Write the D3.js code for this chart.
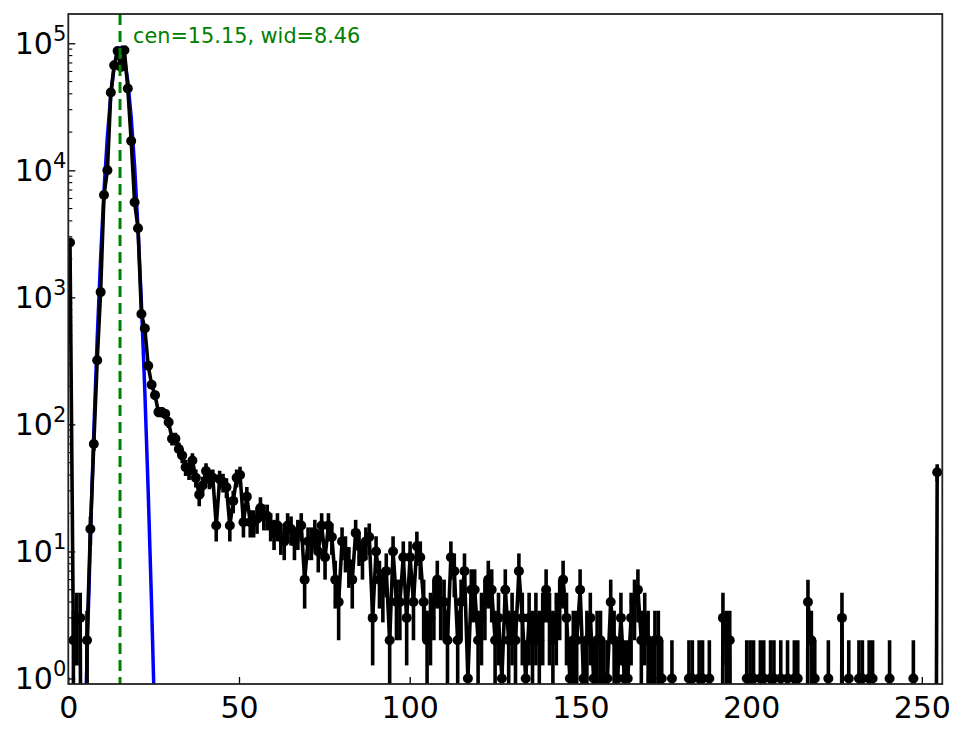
<!DOCTYPE html>
<html><head><meta charset="utf-8">
<script src="https://cdn.jsdelivr.net/npm/d3@7"></script>
<style>
body{margin:0;background:#fff;}
text{font-family:"DejaVu Sans",sans-serif;}
</style>
</head><body>
<svg id="chart" width="964" height="729"></svg>
<script>
// ---- data ----
const counts = [
  2700,2,3,3,0,2,15,70,320,1100,6400,10000,41000,67000,87000,65000,
  88000,44000,17000,5600,3500,740,570,290,205,170,125,125,121,104,77,77,
  64,57,46,43,52,38,28,33,43,37,38,16,37,35,32,16,
  25,38,40,17,27,17,17,18,22,19,19,16,14,16,13,12,
  16,15,12,14,16,6,12,12,14,10,16,9,16,13,6,4,
  12,10,8,6,14,11,9,12,13,3,10,6,5,7,2,10,
  4,4,9,3,9,4,11,9,4,2,3,4,6,4,4,2,
  9,7,2,4,7,1,5,5,2,3,4,6,5,2,3,1,
  5,2,3,2,7,3,1,3,2,3,2,3,5,3,2,3,
  4,6,3,1,2,2,5,1,2,3,1,2,2,1,1,4,
  2,1,3,1,1,3,4,5,2,3,2,1,2,2,1,0,
  0,1,0,0,0,0,1,1,0,1,1,0,1,0,0,0,
  3,2,2,0,0,0,0,1,1,1,0,1,1,0,1,1,
  0,1,0,1,0,1,1,0,0,4,2,1,0,0,0,1,
  0,0,0,3,0,1,0,0,1,1,0,1,1,0,0,0,
  0,1,0,0,0,0,0,0,1,0,0,0,0,0,0,42
];
const histRangeMax = 255;           // histogram range 0..255 in 256 bins
const binIndex = d3.range(counts.length);
const fitBins   = [4,5,6,7,8,9,10,11,12,13,14,15,16,17,18,19,20,21,22,23,24,25,26];
const fitValues = [0.134,1.47,12.7,87.4,474,2033,6900,18520,39310,66000,87660,92090,
                   76480,50260,26110,10730,3490,897,183,29.4,3.73,0.376,0.03];
const fitCenter = 15.15, fitWidth = 8.46;
const xTicks = [0,50,100,150,200,250];
const yTickExponents = [0,1,2,3,4,5];

// ---- layout ----
const W = 964, H = 729;
const L = 68.3, R = 942.3, T = 14, B = 684;
const svg = d3.select("#chart");
svg.append("rect").attr("width",W).attr("height",H).attr("fill","#fff");

const x = d3.scaleLinear().domain([0,256]).range([L,R]);
const y = d3.scaleLog().domain([0.905,1.70e5]).range([B,T]);
const binCenter = i => (i + 0.5) * histRangeMax / counts.length;
const floorVal = 1e-6;

svg.append("clipPath").attr("id","plotclip").append("rect")
  .attr("x",L).attr("y",T).attr("width",R-L).attr("height",B-T);
const g = svg.append("g").attr("clip-path","url(#plotclip)");

// fit curve
g.append("path")
  .datum(fitBins.map((b,k)=>[b,fitValues[k]]))
  .attr("fill","none").attr("stroke","#0000ff").attr("stroke-width",3.5)
  .attr("d", d3.line().x(d=>x(binCenter(d[0]))).y(d=>y(Math.max(d[1],floorVal))));

// data line
g.append("path")
  .datum(binIndex)
  .attr("fill","none").attr("stroke","#000").attr("stroke-width",3.6)
  .attr("stroke-linejoin","round")
  .attr("d", d3.line().x(i=>x(binCenter(i))).y(i=>y(Math.max(counts[i],floorVal))));

// error bars (Poisson)
const nz = binIndex.filter(i=>counts[i]>0);
g.selectAll("line.err").data(nz).join("line").attr("class","err")
  .attr("x1",i=>x(binCenter(i))).attr("x2",i=>x(binCenter(i)))
  .attr("y1",i=>y(Math.max(counts[i]-Math.sqrt(counts[i]),floorVal)))
  .attr("y2",i=>y(counts[i]+Math.sqrt(counts[i])))
  .attr("stroke","#000").attr("stroke-width",3.6);

// markers
g.selectAll("circle.pt").data(nz).join("circle").attr("class","pt")
  .attr("cx",i=>x(binCenter(i))).attr("cy",i=>y(counts[i])).attr("r",5)
  .attr("fill","#000");

// center line
g.append("line")
  .attr("x1",x(fitCenter)).attr("x2",x(fitCenter)).attr("y1",T).attr("y2",B)
  .attr("stroke","#008000").attr("stroke-width",3).attr("stroke-dasharray","11,6");

// annotation
svg.append("text").attr("x",x(fitCenter)+13).attr("y",43)
  .attr("fill","#008000").style("font-size","20.8px")
  .text(`cen=${fitCenter.toFixed(2)}, wid=${fitWidth.toFixed(2)}`);

// x axis
const xAxis = d3.axisBottom(x).tickValues(xTicks).tickSizeInner(-7).tickSizeOuter(0).tickPadding(13)
  .tickFormat(d3.format("d"));
const gx = svg.append("g").attr("transform",`translate(0,${B})`).call(xAxis);
gx.select(".domain").remove();
gx.selectAll(".tick line").attr("stroke","#000").attr("stroke-width",1.3);
gx.selectAll(".tick text").style("font-size","30px").attr("fill","#000")
  .style("font-family","'DejaVu Sans',sans-serif");

// y axis major
const yMajor = yTickExponents.map(e=>Math.pow(10,e));
const yAxis = d3.axisLeft(y).tickValues(yMajor).tickSizeInner(-7).tickSizeOuter(0).tickFormat("");
const gy = svg.append("g").attr("transform",`translate(${L},0)`).call(yAxis);
gy.select(".domain").remove();
gy.selectAll(".tick line").attr("stroke","#000").attr("stroke-width",1.3);

// y minor ticks
const [y0,y1] = y.domain();
const minor = [];
yTickExponents.concat([-1]).forEach(e=>{ for(let m=2;m<=9;m++){ const v=m*Math.pow(10,e); if(v>=y0&&v<=y1) minor.push(v);} });
svg.append("g").selectAll("line").data(minor).join("line")
  .attr("x1",L).attr("x2",L+4).attr("y1",d=>y(d)).attr("y2",d=>y(d))
  .attr("stroke","#000").attr("stroke-width",1.1);

// y labels 10^k
const ylab = svg.append("g").selectAll("text").data(yTickExponents).join("text")
  .attr("x",L-2).attr("y",e=>y(Math.pow(10,e))+11).attr("text-anchor","end")
  .attr("fill","#000").style("font-size","30px");
ylab.append("tspan").text("10");
ylab.append("tspan").attr("dy",-13).style("font-size","21px").text(e=>String(e));

// frame
svg.append("rect").attr("x",L).attr("y",T).attr("width",R-L).attr("height",B-T)
  .attr("fill","none").attr("stroke","#222").attr("stroke-width",1.8);
</script>
</body></html>
